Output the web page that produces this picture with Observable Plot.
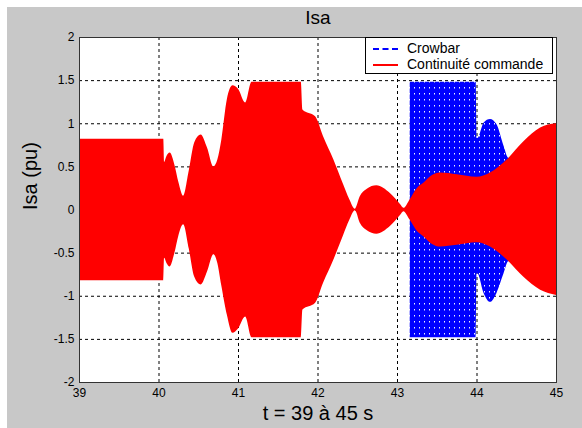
<!DOCTYPE html>
<html><head><meta charset="utf-8">
<script src="https://cdn.jsdelivr.net/npm/d3@7"></script>
<script src="https://cdn.jsdelivr.net/npm/@observablehq/plot@0.6"></script>
<style>
html,body{margin:0;padding:0;background:#fff;width:582px;height:428px;overflow:hidden;}
#fig{position:absolute;left:7px;top:7px;width:575px;height:421px;background:#c8c8c8;}
#fig svg{display:block;}
.row{position:absolute;left:0;height:16px;line-height:16px;white-space:nowrap;}
.sample{position:absolute;left:7px;width:25px;top:8px;height:0;}
.lab{position:absolute;left:41px;top:0;}
</style></head><body>
<svg width="0" height="0" style="position:absolute">
  <defs>
    <pattern id="bluedots" patternUnits="userSpaceOnUse" width="5" height="6">
      <rect width="5" height="6" fill="#0000ff"/>
      <rect x="2" y="2" width="1" height="1.5" fill="#f0f2ff"/>
    </pattern>
  </defs>
</svg>
<div id="fig"></div>
<script>
const titleText = ["Isa"];
const yLabelText = ["Isa (pu)"];
const xLabelText = ["t = 39 à 45 s"];
const xTicks = [39, 40, 41, 42, 43, 44, 45];
const yTicks = [-2, -1.5, -1, -0.5, 0, 0.5, 1, 1.5, 2];
const seriesNames = ["Crowbar", "Continuité commande"];
const seriesColors = ["#0000ff", "#ff0000"];

// "Continuité commande" envelope (upper / lower)
const redT  = [39.00, 40.06, 40.07, 40.10, 40.14, 40.20, 40.25, 40.31, 40.38, 40.45, 40.53, 40.61, 40.69, 40.74, 40.79, 40.86, 40.93, 41.00, 41.09, 41.17, 41.79, 41.81, 41.97, 42.07, 42.20, 42.32, 42.40, 42.47, 42.53, 42.62, 42.74, 42.91, 43.04, 43.08, 43.16, 43.25, 43.33, 43.44, 43.54, 43.75, 44.00, 44.17, 44.38, 44.59, 44.80, 45.00];
const redHi = [0.82, 0.82, 0.55, 0.62, 0.66, 0.52, 0.32, 0.16, 0.45, 0.78, 0.87, 0.72, 0.50, 0.58, 0.81, 1.28, 1.44, 1.40, 1.24, 1.48, 1.48, 1.16, 1.08, 0.85, 0.58, 0.30, 0.12, 0.01, 0.15, 0.24, 0.28, 0.19, 0.06, 0.02, 0.12, 0.25, 0.31, 0.40, 0.43, 0.41, 0.38, 0.43, 0.58, 0.79, 0.95, 1.00];
const redLo = [-0.82, -0.82, -0.56, -0.62, -0.66, -0.50, -0.30, -0.17, -0.45, -0.78, -0.87, -0.72, -0.52, -0.62, -0.88, -1.22, -1.43, -1.38, -1.24, -1.48, -1.48, -1.16, -1.08, -0.85, -0.58, -0.30, -0.12, -0.01, -0.15, -0.24, -0.28, -0.19, -0.06, -0.02, -0.12, -0.25, -0.31, -0.40, -0.43, -0.41, -0.38, -0.43, -0.58, -0.78, -0.93, -0.99];

// "Crowbar" envelope
const blueT  = [43.16, 43.99, 44.00, 44.01, 44.09, 44.17, 44.25, 44.34, 44.40, 44.50];
const blueHi = [1.48, 1.48, 0.83, 0.83, 1.01, 1.05, 0.99, 0.74, 0.60, 0.62];
const blueLo = [-1.48, -1.48, -0.74, -0.74, -0.97, -1.07, -0.97, -0.74, -0.60, -0.62];

const red = redT.map((t, i) => ({t, hi: redHi[i], lo: redLo[i]}));
const blue = blueT.map((t, i) => ({t, hi: blueHi[i], lo: blueLo[i]}));

const font = "'Liberation Sans', Arial, Helvetica, sans-serif";

const chart = Plot.plot({
  width: 575, height: 421,
  marginLeft: 72, marginRight: 26, marginTop: 30, marginBottom: 46,
  style: {background: "#c8c8c8", fontFamily: font, fontSize: "12px", color: "#000", overflow: "visible"},
  x: {domain: [39, 45]},
  y: {domain: [-2, 2]},
  marks: [
    Plot.frame({fill: "#fff", stroke: "none"}),
    Plot.gridX(xTicks, {stroke: "#000", strokeOpacity: 1, strokeWidth: 1, strokeDasharray: "3,3"}),
    Plot.gridY(yTicks, {stroke: "#000", strokeOpacity: 1, strokeWidth: 1, strokeDasharray: "3,3"}),
    Plot.areaY(blue, {x: "t", y1: "lo", y2: "hi", curve: "monotone-x", fill: "url(#bluedots)", fillOpacity: 1}),
    Plot.areaY(red, {x: "t", y1: "lo", y2: "hi", curve: "monotone-x", fill: seriesColors[1], fillOpacity: 1}),
    Plot.frame({stroke: "#333", strokeWidth: 1}),
    Plot.axisX(xTicks, {tickSize: 0, tickPadding: 6, tickFormat: d => String(d), label: null, fontSize: 12}),
    Plot.axisY(yTicks, {tickSize: 0, tickPadding: 5, tickFormat: d => String(d), label: null, fontSize: 12}),
    Plot.text(titleText, {text: d => d, frameAnchor: "top", dy: -20, lineAnchor: "middle", fontSize: 19, fill: "#000"}),
    Plot.text(xLabelText, {text: d => d, frameAnchor: "bottom", dy: 31, lineAnchor: "middle", fontSize: 20, fill: "#000"}),
    Plot.text(yLabelText, {text: d => d, frameAnchor: "left", dx: -49, rotate: -90, lineAnchor: "middle", fontSize: 20, fill: "#000"})
  ]
});
document.getElementById("fig").appendChild(chart);

// legend
const legend = document.createElement("div");
Object.assign(legend.style, {
  position: "absolute", left: "358px", top: "30px", width: "188px", height: "37px",
  background: "#fff", border: "1px solid #000", boxSizing: "border-box",
  fontFamily: font, fontSize: "14px", color: "#000"
});
seriesNames.forEach((name, i) => {
  const row = document.createElement("div");
  row.className = "row";
  row.style.top = (2 + i * 16) + "px";
  row.style.width = "100%";
  const s = document.createElement("div");
  s.className = "sample";
  s.style.borderTop = (i === 0 ? "2px dashed " : "2px solid ") + seriesColors[i];
  const l = document.createElement("div");
  l.className = "lab";
  l.textContent = name;
  row.appendChild(s); row.appendChild(l);
  legend.appendChild(row);
});
document.getElementById("fig").appendChild(legend);
</script>
</body></html>
